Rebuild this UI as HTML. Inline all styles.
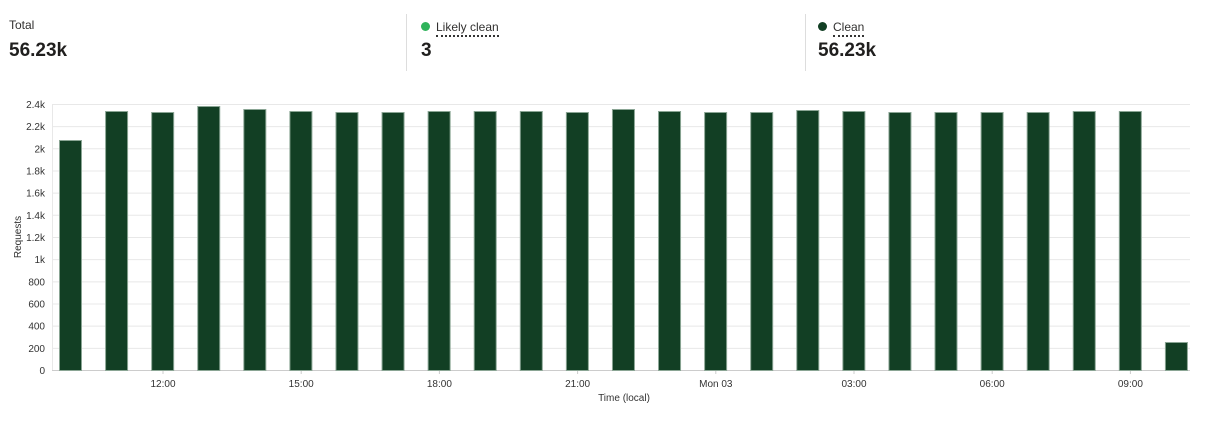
<!DOCTYPE html>
<html><head><style>
body{margin:0;width:1209px;height:431px;background:#fff;font-family:"Liberation Sans",sans-serif;overflow:hidden;position:relative;color:#222}
.lab{position:absolute;font-size:12px;color:#323130}
.val{position:absolute;font-size:19px;font-weight:bold;color:#201f1e}
.div{position:absolute;top:14px;width:1px;height:57px;background:#ddd}
.dot{display:inline-block;width:9px;height:9px;border-radius:50%;margin-right:6px;vertical-align:0px}
.u{border-bottom:2px dotted #333;padding-bottom:1px}
</style></head><body>
<div class="lab" style="left:9px;top:18px">Total</div>
<div class="val" style="left:9px;top:40px">56.23k</div>
<div class="div" style="left:406px"></div>
<div class="lab" style="left:421px;top:20px"><span class="dot" style="background:#2fb35b"></span><span class="u">Likely clean</span></div>
<div class="val" style="left:421px;top:40px">3</div>
<div class="div" style="left:805px"></div>
<div class="lab" style="left:818px;top:20px"><span class="dot" style="background:#123f24"></span><span class="u">Clean</span></div>
<div class="val" style="left:818px;top:40px">56.23k</div>
<svg width="1209" height="431" style="position:absolute;left:0;top:0" font-family="Liberation Sans, sans-serif">
<g id="g" stroke="#e8e8e8" stroke-width="1"></g>
<g id="b" fill="#123f24" stroke="#8aa594" stroke-width="1"></g>
<g id="t" font-size="10" fill="#333"></g>
<text x="21" y="237" font-size="10" fill="#333" text-anchor="middle" transform="rotate(-90 21 237)">Requests</text>
<text x="624" y="401" font-size="10" fill="#333" text-anchor="middle">Time (local)</text>
</svg>
<script>
var ns="http://www.w3.org/2000/svg";
function el(p,n,a,t){var e=document.createElementNS(ns,n);for(var k in a)e.setAttribute(k,a[k]);if(t)e.textContent=t;document.getElementById(p).appendChild(e);}
var labs=["0","200","400","600","800","1k","1.2k","1.4k","1.6k","1.8k","2k","2.2k","2.4k"];
for(var i=0;i<13;i++){var y=370.5-i*22.17;el("g","line",{x1:52,x2:1190,y1:y,y2:y,stroke:i==0?"#ccc":"#e8e8e8"});el("t","text",{x:45,y:y+3.5,"text-anchor":"end"},labs[i]);}
el("g","line",{x1:52.5,x2:52.5,y1:104,y2:370});
var tops=[140,111,112,106,109,111,112,112,111,111,111,112,109,111,112,112,110,111,112,112,112,112,111,111,342];
for(var i=0;i<25;i++){var x=59+i*46.08;el("b","rect",{x:x+.5,y:tops[i]+.5,width:22,height:370-tops[i]});}
var tl=["12:00","15:00","18:00","21:00","Mon 03","03:00","06:00","09:00"];
for(var i=0;i<8;i++){var x=163+i*138.2;el("g","line",{x1:x,x2:x,y1:370,y2:374,stroke:"#ccc"});el("t","text",{x:x,y:387,"text-anchor":"middle"},tl[i]);}
</script>
</body></html>
